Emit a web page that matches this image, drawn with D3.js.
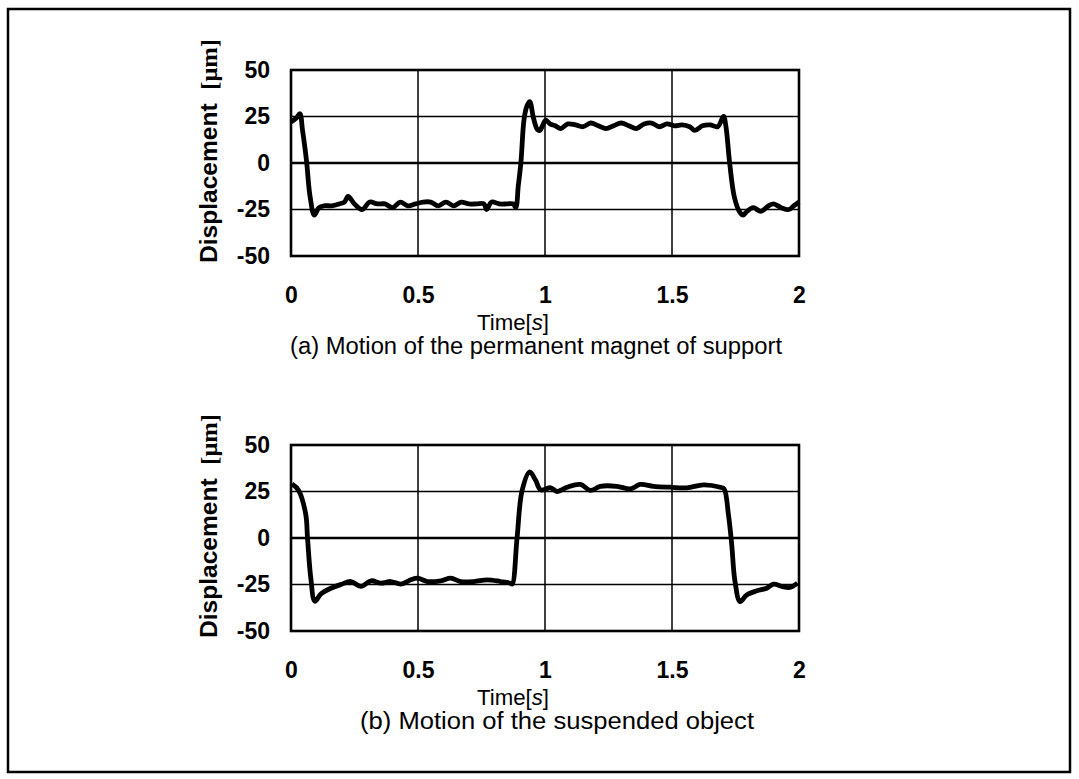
<!DOCTYPE html>
<html>
<head>
<meta charset="utf-8">
<script src="https://cdn.jsdelivr.net/npm/d3@7"></script>
<style>
  body { margin: 0; background: #fff; }
  svg { display: block; }
  text { font-family: 'Liberation Sans', Arial, sans-serif; fill: #000; }
</style>
</head>
<body>
<svg id="chart"></svg>
<script>
// values
let timeA = [0, 0.02, 0.035, 0.045, 0.055, 0.062, 0.075, 0.092, 0.11, 0.13, 0.16, 0.19, 0.21, 0.225, 0.25, 0.28, 0.31, 0.34, 0.37, 0.40, 0.43, 0.46, 0.49, 0.52, 0.55, 0.58, 0.61, 0.64, 0.67, 0.70, 0.73, 0.76, 0.77, 0.79, 0.82, 0.85, 0.875, 0.885, 0.895, 0.905, 0.918, 0.93, 0.94, 0.955, 0.97, 0.98, 0.99, 1.003, 1.02, 1.04, 1.062, 1.09, 1.12, 1.15, 1.18, 1.21, 1.24, 1.27, 1.30, 1.33, 1.36, 1.39, 1.42, 1.45, 1.48, 1.51, 1.54, 1.57, 1.59, 1.62, 1.65, 1.68, 1.703, 1.712, 1.727, 1.745, 1.765, 1.78, 1.795, 1.82, 1.85, 1.88, 1.90, 1.93, 1.96, 1.98, 2.0];
let dispA = [22, 24, 26.5, 18, 8, 0, -18, -28, -24, -23, -23, -22, -21, -18, -22, -25, -21, -22, -22, -24, -21, -23, -22, -21, -21, -23, -21, -23, -21, -22, -22, -22, -25, -21, -22, -22, -22, -24, -12, 0, 24, 31, 33, 24, 18, 17.5, 20, 23, 21, 20, 18.5, 21, 20.5, 19.5, 21.5, 20, 18.5, 20, 21.5, 20, 18.5, 21, 21.5, 19.5, 21, 20, 20.5, 19.5, 17.5, 20, 20.5, 19.5, 25, 20, 0, -18, -26, -28, -26, -24, -26, -23, -22, -24, -25, -23, -21];

let timeB = [0.004, 0.03, 0.058, 0.065, 0.078, 0.094, 0.118, 0.157, 0.196, 0.236, 0.275, 0.315, 0.354, 0.393, 0.433, 0.472, 0.498, 0.537, 0.59, 0.629, 0.668, 0.72, 0.773, 0.825, 0.864, 0.871, 0.89, 0.91, 0.94, 0.963, 0.983, 1.022, 1.048, 1.087, 1.139, 1.179, 1.218, 1.283, 1.336, 1.375, 1.427, 1.493, 1.558, 1.624, 1.69, 1.705, 1.722, 1.735, 1.748, 1.768, 1.794, 1.834, 1.873, 1.9, 1.932, 1.964, 1.994];
let dispB = [29, 25.6, 12.8, 0, -21.6, -34, -30, -27, -25, -23.4, -26, -23, -24.3, -23.4, -24.8, -22.5, -21.6, -23.4, -23, -21.6, -23.4, -23.4, -22.5, -23.4, -24.3, -24.8, 0, 25.6, 35.5, 31, 25.9, 27, 25, 27.3, 28.8, 25.6, 27.8, 27.8, 26.4, 28.8, 27.8, 27.3, 27, 28.6, 27.3, 26.4, 12.8, -3.4, -23.4, -34.2, -30.6, -28.4, -27, -24.8, -26, -26.6, -24.3];

let xTicks = [0, 0.5, 1, 1.5, 2];
let yTicks = [50, 25, 0, -25, -50];
let captions = ['(a) Motion of the permanent magnet of support', '(b) Motion of the suspended object'];

let width = 1079, height = 779;

let svg = d3.select('#chart')
    .attr('width', width)
    .attr('height', height);

svg.append('rect')//outer frame
    .attr('x', 8).attr('y', 9)
    .attr('width', 1062).attr('height', 763)
    .attr('fill', 'none')
    .attr('stroke', '#000')
    .attr('stroke-width', 2.5);

let drawPanel = (top, times, disps, caption, capWidth, capX) => {
    let x = d3.scaleLinear().domain([0, 2]).range([291, 799]);
    let y = d3.scaleLinear().domain([-50, 50]).range([top + 186, top]);
    let g = svg.append('g');

    // grid
    g.selectAll('.vgrid')
        .data(xTicks.slice(1, -1))
        .enter().append('line')
        .attr('x1', d => x(d)).attr('x2', d => x(d))
        .attr('y1', y(50)).attr('y2', y(-50))
        .attr('stroke', '#000').attr('stroke-width', 1.5);
    g.selectAll('.hgrid')
        .data(yTicks.slice(1, -1))
        .enter().append('line')
        .attr('x1', x(0)).attr('x2', x(2))
        .attr('y1', d => y(d)).attr('y2', d => y(d))
        .attr('stroke', '#000')
        .attr('stroke-width', d => d === 0 ? 2.6 : 1.5);

    g.append('rect')
        .attr('x', x(0)).attr('y', y(50))
        .attr('width', x(2) - x(0)).attr('height', y(-50) - y(50))
        .attr('fill', 'none')
        .attr('stroke', '#000').attr('stroke-width', 2.6);

    // axes, only labels
    let yAxis = g.append('g')
        .attr('transform', `translate(${x(0) - 21},0)`)
        .call(d3.axisLeft(y).tickValues(yTicks).tickSize(0).tickPadding(0).tickFormat(d => String(d)));
    let xAxis = g.append('g')
        .attr('transform', `translate(0,${y(-50) + 47})`)
        .call(d3.axisBottom(x).tickValues(xTicks).tickSize(0).tickPadding(0).tickFormat(d => String(d)));
    [yAxis, xAxis].forEach(a => {
        a.select('.domain').remove();
        a.selectAll('text')
            .style('font-family', "'Liberation Sans', Arial, sans-serif")
            .style('font-size', '23px')
            .style('font-weight', 'bold')
            .attr('fill', '#000');
    });
    xAxis.selectAll('text').attr('dy', '0');

    let line = d3.line()
        .x((d, i) => x(times[i]))
        .y(d => y(d))
        .curve(d3.curveCatmullRom.alpha(0.5));

    g.append('path')
        .datum(disps)
        .attr('d', line)
        .attr('fill', 'none')
        .attr('stroke', '#000')
        .attr('stroke-width', 4.8)
        .attr('stroke-linejoin', 'round');

    // y title
    let yt = g.append('text')
        .attr('transform', `translate(217,${top + 81}) rotate(-90)`)
        .attr('text-anchor', 'middle')
        .style('font-size', '24px')
        .style('font-weight', 'bold')
        .attr('textLength', 224)
        .attr('lengthAdjust', 'spacingAndGlyphs');
    yt.append('tspan').text('Displacement\u00a0\u00a0');
    yt.append('tspan').style('font-family', "'Liberation Serif', serif").text('[\u03bcm]');

    // x title
    let xt = g.append('text')
        .attr('x', 513).attr('y', y(-50) + 74)
        .attr('text-anchor', 'middle')
        .style('font-size', '22px')
        .attr('textLength', 72)
        .attr('lengthAdjust', 'spacingAndGlyphs');
    xt.append('tspan').text('Time[');
    xt.append('tspan').style('font-style', 'italic').text('s');
    xt.append('tspan').text(']');

    g.append('text')
        .attr('x', capX).attr('y', y(-50) + 98)
        .attr('text-anchor', 'middle')
        .style('font-size', '23px')
        .attr('textLength', capWidth)
        .attr('lengthAdjust', 'spacingAndGlyphs')
        .text(caption);
};

drawPanel(70, timeA, dispA, captions[0], 492, 536);
drawPanel(445, timeB, dispB, captions[1], 394, 557);
</script>
</body>
</html>
